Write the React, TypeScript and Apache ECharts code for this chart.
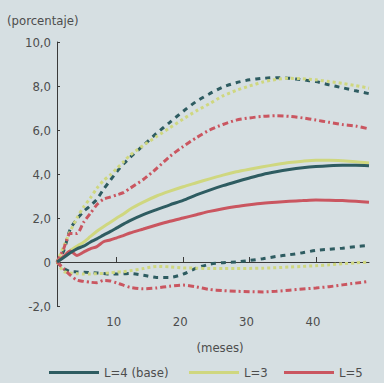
import React, { useEffect, useRef } from "react";
import * as echarts from "echarts";

// Horizon in months (denser sampling at the start, where the responses move fastest)
const months = [1, 2, 3, 4, 5, 6, 7, 8, 9, 10, 11, 12, 14, 16, 18, 20, 22, 24, 26, 28, 30, 32, 34, 36, 38, 40, 42, 44, 46, 48];

// L=4 (base): central response and confidence band
const l4Mid = [0, 0.2, 0.42, 0.6, 0.72, 0.9, 1.05, 1.22, 1.38, 1.55, 1.72, 1.88, 2.15, 2.38, 2.6, 2.8, 3.05, 3.27, 3.47, 3.65, 3.82, 3.98, 4.1, 4.2, 4.28, 4.34, 4.38, 4.4, 4.4, 4.38];
const l4Up = [0, 0.5, 1.5, 1.95, 2.3, 2.55, 2.85, 3.3, 3.7, 4.1, 4.45, 4.75, 5.3, 5.85, 6.35, 6.85, 7.3, 7.65, 7.95, 8.15, 8.28, 8.35, 8.38, 8.35, 8.28, 8.2, 8.05, 7.92, 7.78, 7.65];
const l4Low = [0, -0.3, -0.43, -0.45, -0.46, -0.48, -0.5, -0.52, -0.55, -0.55, -0.54, -0.52, -0.6, -0.7, -0.7, -0.55, -0.28, -0.1, -0.03, 0, 0.07, 0.15, 0.25, 0.33, 0.42, 0.53, 0.58, 0.63, 0.7, 0.75];

// L=3
const l3Mid = [0, 0.25, 0.52, 0.72, 0.9, 1.15, 1.4, 1.6, 1.8, 2.0, 2.18, 2.4, 2.72, 3.0, 3.22, 3.42, 3.6, 3.78, 3.95, 4.1, 4.22, 4.33, 4.43, 4.52, 4.58, 4.62, 4.62, 4.6, 4.56, 4.5];
const l3Up = [0, 0.7, 1.4, 2.0, 2.5, 2.9, 3.35, 3.7, 3.95, 4.25, 4.55, 4.85, 5.3, 5.7, 6.1, 6.5, 6.87, 7.2, 7.55, 7.8, 8.0, 8.18, 8.3, 8.35, 8.33, 8.28, 8.2, 8.12, 8.02, 7.9];
const l3Low = [0, -0.43, -0.5, -0.53, -0.55, -0.55, -0.53, -0.52, -0.49, -0.46, -0.44, -0.4, -0.3, -0.2, -0.22, -0.27, -0.28, -0.3, -0.3, -0.3, -0.29, -0.28, -0.26, -0.23, -0.2, -0.17, -0.13, -0.08, -0.04, 0];

// L=5
const l5Mid = [0, 0.25, 0.5, 0.3, 0.45, 0.6, 0.7, 0.92, 1.0, 1.1, 1.2, 1.32, 1.5, 1.68, 1.85, 2.0, 2.15, 2.3, 2.42, 2.52, 2.6, 2.67, 2.72, 2.76, 2.79, 2.82, 2.81, 2.79, 2.76, 2.72];
const l5Up = [0, 0.6, 1.3, 1.3, 1.8, 2.2, 2.6, 2.85, 2.95, 3.05, 3.15, 3.35, 3.75, 4.25, 4.8, 5.25, 5.65, 6.0, 6.25, 6.45, 6.55, 6.62, 6.65, 6.62, 6.55, 6.45, 6.35, 6.25, 6.18, 6.05];
const l5Low = [0, -0.3, -0.6, -0.82, -0.88, -0.92, -0.94, -0.84, -0.86, -0.95, -1.05, -1.15, -1.22, -1.18, -1.1, -1.05, -1.13, -1.25, -1.3, -1.33, -1.35, -1.36, -1.33, -1.28, -1.23, -1.18, -1.12, -1.04, -0.96, -0.88];

const xTickValues = [10, 20, 30, 40];

const BG = "#d6dfe2";
const TEAL = "#2e5c61";
const YELLOW = "#cfd77f";
const RED = "#ca5660";
const TEXT = "#4d4d4d";
const AXIS = "#3a3a3a";
const FONT = "'Liberation Sans Narrow', 'DejaVu Sans Condensed', 'Roboto Condensed', sans-serif";
const FS = 13;

const toPairs = (vals: number[]) => months.map((m, i) => [m, vals[i]]);

const fmtY = (v: number) => (v === 0 ? "0" : v.toFixed(1).replace(".", ","));

function line(name: string, vals: number[], color: string, dash: number[] | "solid", width = 3, z = 2) {
  return {
    name,
    type: "line",
    xAxisIndex: 0,
    yAxisIndex: 0,
    data: toPairs(vals),
    showSymbol: false,
    symbol: "none",
    smooth: 0.25,
    z,
    lineStyle: { color, width, type: dash, cap: "butt" },
    itemStyle: { color },
    emphasis: { disabled: true },
  };
}

export default function App() {
  const ref = useRef<HTMLDivElement>(null);

  useEffect(() => {
    document.body.style.margin = "0";
    const chart = echarts.init(ref.current!, null, { renderer: "svg" });

    const legendBase = {
      top: 366,
      padding: 0,
      orient: "horizontal",
      icon: "rect",
      itemWidth: 50,
      itemHeight: 3,
      selectedMode: false,
      textStyle: { color: TEXT, fontSize: FS, fontFamily: FONT },
    };

    chart.setOption({
      animation: false,
      backgroundColor: BG,
      textStyle: { fontFamily: FONT },
      grid: { left: 57, right: 15, top: 42, bottom: 77, containLabel: false, outerBoundsMode: "none" },
      legend: [
        { ...legendBase, left: 49, data: ["L=4 (base)"] },
        { ...legendBase, left: 189, data: ["L=3"] },
        { ...legendBase, left: 284, data: ["L=5"] },
      ],
      xAxis: [
        {
          type: "value",
          min: 1,
          max: 48,
          position: "bottom",
          axisLine: { show: true, onZero: true, lineStyle: { color: AXIS, width: 1 } },
          axisTick: { show: true, inside: true, length: 5, customValues: xTickValues, lineStyle: { color: AXIS } },
          axisLabel: { show: false },
          splitLine: { show: false },
        },
        {
          type: "value",
          min: 1,
          max: 48,
          position: "bottom",
          axisLine: { show: false, onZero: false },
          axisTick: { show: false },
          axisLabel: {
            show: true,
            customValues: xTickValues,
            color: TEXT,
            fontSize: FS,
            fontFamily: FONT,
            margin: 9,
            padding: [0, 6, 0, 0],
          },
          splitLine: { show: false },
        },
      ],
      yAxis: {
        type: "value",
        min: -2,
        max: 10,
        interval: 2,
        axisLine: { show: true, onZero: false, lineStyle: { color: AXIS, width: 1 } },
        axisTick: { show: true, inside: true, length: 3, lineStyle: { color: AXIS } },
        axisLabel: { color: TEXT, fontSize: FS, fontFamily: FONT, margin: 6, formatter: fmtY },
        splitLine: { show: false },
      },
      graphic: [
        {
          type: "text",
          left: 7,
          top: 14,
          style: { text: "(porcentaje)", fill: TEXT, fontSize: FS, fontFamily: FONT },
        },
        {
          type: "text",
          x: 220,
          y: 347,
          style: { text: "(meses)", fill: TEXT, fontSize: FS, fontFamily: FONT, align: "center", verticalAlign: "middle" },
        },
      ],
      series: [
        line("L=4 (base) superior", l4Up, TEAL, [5, 5]),
        line("L=4 (base) inferior", l4Low, TEAL, [5, 5]),
        line("L=3 superior", l3Up, YELLOW, [3, 3]),
        line("L=3 inferior", l3Low, YELLOW, [3, 3]),
        line("L=5 superior", l5Up, RED, [6, 3, 2, 3]),
        line("L=5 inferior", l5Low, RED, [6, 3, 2, 3]),
        line("L=3", l3Mid, YELLOW, "solid", 3, 3),
        line("L=5", l5Mid, RED, "solid", 3, 3),
        line("L=4 (base)", l4Mid, TEAL, "solid", 3, 4),
      ],
    });

    return () => chart.dispose();
  }, []);

  return (
    <div
      ref={ref}
      style={{ position: "fixed", left: 0, top: 0, width: 384, height: 383, background: BG }}
    />
  );
}
